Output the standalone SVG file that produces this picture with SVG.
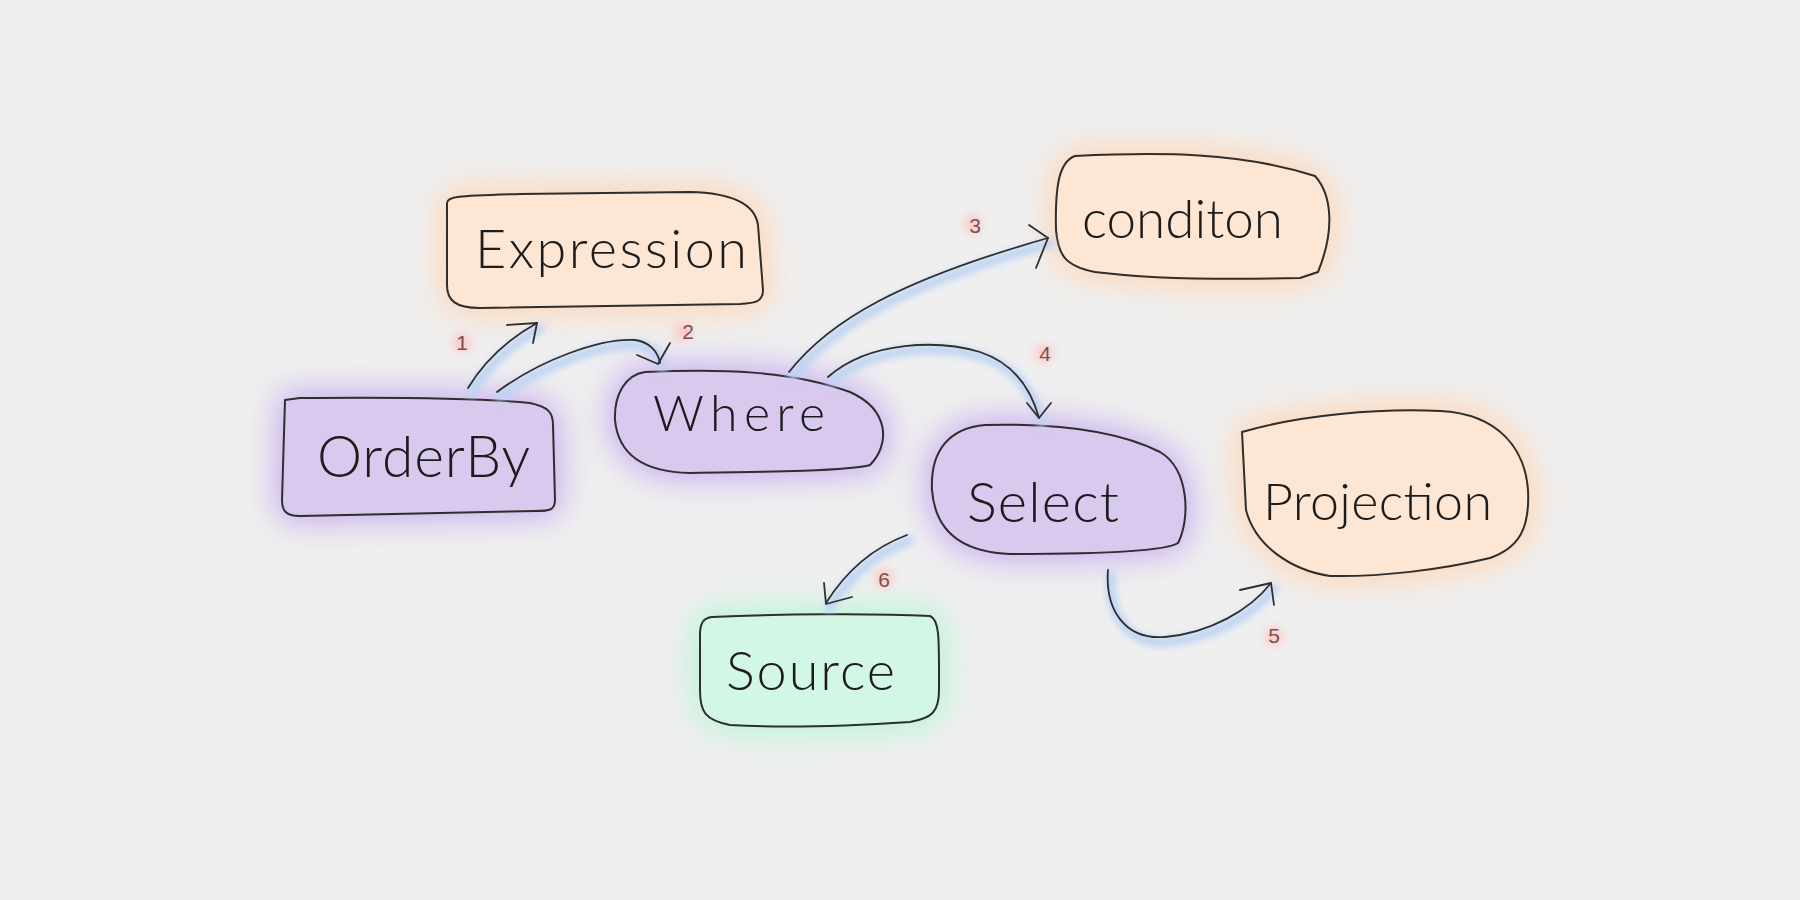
<svg xmlns="http://www.w3.org/2000/svg" width="1800" height="900" viewBox="0 0 1800 900">
<defs>
<filter id="glow" x="-40%" y="-40%" width="180%" height="180%"><feGaussianBlur stdDeviation="16"/></filter>
<filter id="lglow" x="-30%" y="-30%" width="160%" height="160%"><feGaussianBlur stdDeviation="3.5"/></filter>
<filter id="nglow" x="-100%" y="-100%" width="300%" height="300%"><feGaussianBlur stdDeviation="5"/></filter>
</defs>
<style>
.orange{fill:#fde6d4}
.purple{fill:#d9c9ef}
.green{fill:#d3f7e5}
.og{fill:#ffd6b5;stroke:#ffd6b5;stroke-width:14}
.pg{fill:#c9aff0;stroke:#c9aff0;stroke-width:14}
.gg{fill:#b8f5d5;stroke:#b8f5d5;stroke-width:14}
.edge{fill:none;stroke:#2e2e2e;stroke-width:1.8;stroke-linecap:round;stroke-linejoin:round}
.shape{stroke:#2e2e2e;stroke-width:2;stroke-linejoin:round}
.lbl{font-family:"Lato","Liberation Sans",sans-serif;font-weight:300;fill:#1c1c1c}
.num{font-family:"Liberation Sans",sans-serif;font-size:21px;fill:#7a5050;text-anchor:middle}
.halo{fill:none;stroke:#bcd3f3;stroke-width:9;stroke-linecap:round}
.npink{fill:#ffc6c6}
</style>
<rect width="1800" height="900" fill="#efefef"/>

<g id="node-expression">
<path class="og" filter="url(#glow)" d="M447,203 C447,196 460,196 520,194 L690,192 C735,193 755,205 758,225 L763,290 C763,302 755,303 740,304 L480,308 C455,308 447,300 447,285 Z"/>
<path class="orange shape" d="M447,203 C447,196 460,196 520,194 L690,192 C735,193 755,205 758,225 L763,290 C763,302 755,303 740,304 L480,308 C455,308 447,300 447,285 Z"/>
<text class="lbl" x="475" y="268" font-size="54" textLength="272">Expression</text>
</g>

<g id="node-condition">
<path class="og" filter="url(#glow)" d="M1075,156 C1160,152 1240,152 1315,176 C1332,195 1335,230 1318,272 L1300,278 C1220,280 1150,279 1095,272 C1065,266 1058,255 1056,230 C1055,190 1058,162 1075,156 Z"/>
<path class="orange shape" d="M1075,156 C1160,152 1240,152 1315,176 C1332,195 1335,230 1318,272 L1300,278 C1220,280 1150,279 1095,272 C1065,266 1058,255 1056,230 C1055,190 1058,162 1075,156 Z"/>
<text class="lbl" x="1082" y="238" font-size="53" textLength="201">conditon</text>
</g>

<g id="node-orderby">
<path class="pg" filter="url(#glow)" d="M285,400 L300,398 C400,397 480,398 530,403 C548,407 553,412 553,425 L555,500 C555,510 550,511 535,511 L300,516 C285,516 282,510 282,500 Z"/>
<path class="purple shape" d="M285,400 L300,398 C400,397 480,398 530,403 C548,407 553,412 553,425 L555,500 C555,510 550,511 535,511 L300,516 C285,516 282,510 282,500 Z"/>
<text class="lbl" x="317" y="477" font-size="57" textLength="213">OrderBy</text>
</g>

<g id="node-where">
<path class="pg" filter="url(#glow)" d="M645,372 C720,369 790,370 850,392 C890,410 890,445 870,465 C850,471 760,472 690,473 C640,472 618,452 615,420 C614,395 625,375 645,372 Z"/>
<path class="purple shape" d="M645,372 C720,369 790,370 850,392 C890,410 890,445 870,465 C850,471 760,472 690,473 C640,472 618,452 615,420 C614,395 625,375 645,372 Z"/>
<text class="lbl" x="653" y="431" font-size="50" textLength="172">Where</text>
</g>

<g id="node-select">
<path class="pg" filter="url(#glow)" d="M985,425 C1060,423 1120,432 1160,452 C1190,470 1190,520 1178,543 C1165,552 1080,554 1010,554 C960,552 935,530 932,490 C930,450 950,428 985,425 Z"/>
<path class="purple shape" d="M985,425 C1060,423 1120,432 1160,452 C1190,470 1190,520 1178,543 C1165,552 1080,554 1010,554 C960,552 935,530 932,490 C930,450 950,428 985,425 Z"/>
<text class="lbl" x="967" y="522" font-size="56" textLength="152">Select</text>
</g>

<g id="node-projection">
<path class="og" filter="url(#glow)" d="M1242,432 C1300,415 1380,408 1440,411 C1500,414 1525,450 1528,490 C1530,530 1518,548 1490,558 C1440,570 1380,577 1330,576 C1290,570 1255,545 1246,510 Z"/>
<path class="orange shape" d="M1242,432 C1300,415 1380,408 1440,411 C1500,414 1525,450 1528,490 C1530,530 1518,548 1490,558 C1440,570 1380,577 1330,576 C1290,570 1255,545 1246,510 Z"/>
<text class="lbl" x="1263" y="520" font-size="52" textLength="229">Projection</text>
</g>

<g id="node-source">
<path class="gg" filter="url(#glow)" d="M712,617 C780,614 870,613 930,616 C940,620 939,640 939,690 C939,712 932,718 910,722 C850,726 780,728 730,725 C705,720 700,712 700,690 L700,635 C700,622 704,618 712,617 Z"/>
<path class="green shape" d="M712,617 C780,614 870,613 930,616 C940,620 939,640 939,690 C939,712 932,718 910,722 C850,726 780,728 730,725 C705,720 700,712 700,690 L700,635 C700,622 704,618 712,617 Z"/>
<text class="lbl" x="726" y="690" font-size="54" textLength="169">Source</text>
</g>

<g id="connectors">
<g filter="url(#lglow)" transform="translate(3,5)">
<path class="halo" d="M468,388 C485,360 510,338 537,323"/>
<path class="halo" d="M497,392 C540,360 600,338 635,340 C650,342 658,352 660,363"/>
<path class="halo" d="M789,372 C830,320 900,280 1048,238"/>
<path class="halo" d="M828,377 C870,340 940,340 980,352 C1010,362 1030,385 1039,418"/>
<path class="halo" d="M1108,570 C1105,610 1125,640 1165,637 C1210,633 1250,610 1271,583"/>
<path class="halo" d="M907,535 C880,545 850,565 826,603"/>
</g>
<path class="edge" d="M468,388 C485,360 510,338 537,323"/>
<path class="edge" d="M507,325 L537,323 L533,343"/>
<path class="edge" d="M497,392 C540,360 600,338 635,340 C650,342 658,352 660,363"/>
<path class="edge" d="M637,355 L658,364 L670,343"/>
<path class="edge" d="M789,372 C830,320 900,280 1048,238"/>
<path class="edge" d="M1029,225 L1048,238 L1036,268"/>
<path class="edge" d="M828,377 C870,340 940,340 980,352 C1010,362 1030,385 1039,418"/>
<path class="edge" d="M1027,403 L1039,418 L1051,403"/>
<path class="edge" d="M1108,570 C1105,610 1125,640 1165,637 C1210,633 1250,610 1271,583"/>
<path class="edge" d="M1240,590 L1271,583 L1274,605"/>
<path class="edge" d="M907,535 C880,545 850,565 826,603"/>
<path class="edge" d="M824,583 L826,604 L852,597"/>
</g>

<g id="edge-labels">
<circle class="npink" filter="url(#nglow)" cx="462" cy="343" r="9"/>
<circle class="npink" filter="url(#nglow)" cx="683" cy="332" r="9"/>
<circle class="npink" filter="url(#nglow)" cx="973" cy="224" r="9"/>
<circle class="npink" filter="url(#nglow)" cx="1044" cy="353" r="9"/>
<circle class="npink" filter="url(#nglow)" cx="1274" cy="636" r="9"/>
<circle class="npink" filter="url(#nglow)" cx="884" cy="578" r="9"/>
<text class="num" x="462" y="350">1</text>
<text class="num" x="688" y="339">2</text>
<text class="num" x="975" y="233">3</text>
<text class="num" x="1045" y="361">4</text>
<text class="num" x="1274" y="643">5</text>
<text class="num" x="884" y="587">6</text>
</g>
</svg>
